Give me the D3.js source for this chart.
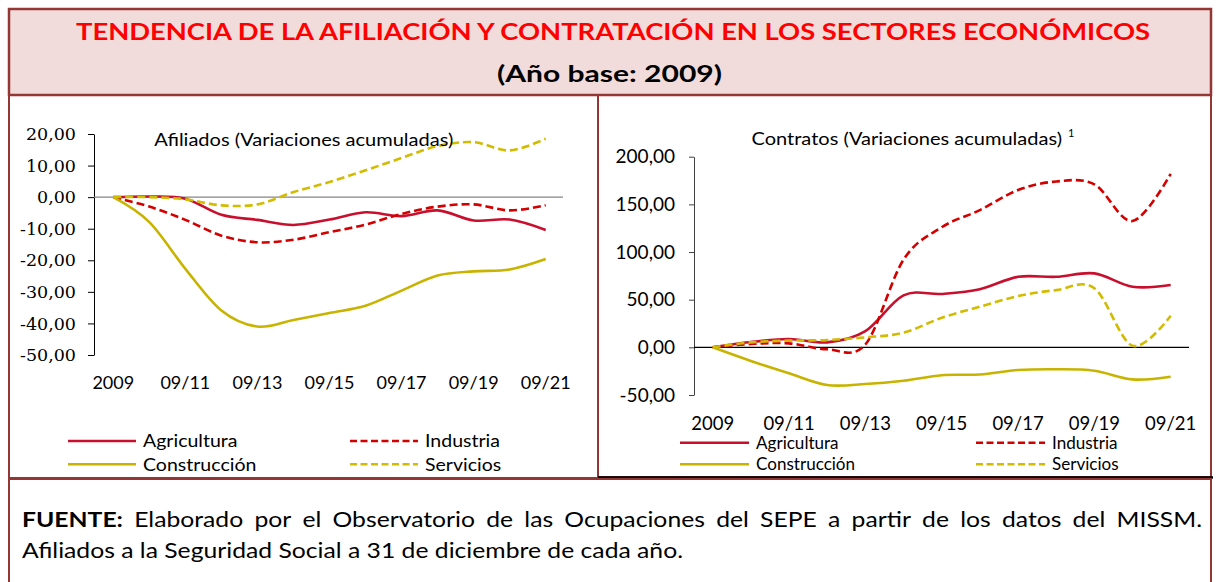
<!DOCTYPE html>
<html lang='es'>
<head>
<meta charset='utf-8'>
<title>Tendencia de la afiliación y contratación</title>
<script src='https://cdn.jsdelivr.net/npm/d3@7/dist/d3.min.js'></script>
<style>
  body { margin: 0; background: #fff; }
  svg text { font-family: Lato, 'Open Sans', sans-serif; }
</style>
</head>
<body>
<script>
// años (categorías) y etiquetas del eje x
var years = ['2009','2010','2011','2012','2013','2014','2015','2016','2017','2018','2019','2020','2021'];
var tickYears = ['2009','2011','2013','2015','2017','2019','2021'];
var tickLabels = ['2009','09/11','09/13','09/15','09/17','09/19','09/21'];
var sectors = ['Agricultura','Industria','Construcción','Servicios'];

// Afiliados (variaciones acumuladas)
var afilAgricultura  = [0, 0.2, -0.5, -5.6, -7.2, -8.8, -7.1, -4.8, -6.0, -4.2, -7.4, -7.1, -10.4];
var afilIndustria    = [0, -3.0, -7.2, -12.2, -14.3, -13.5, -11.1, -8.7, -5.3, -3.0, -2.3, -4.2, -2.6];
var afilConstruccion = [0, -7.9, -22.7, -35.9, -41.0, -38.9, -36.7, -34.4, -29.6, -24.8, -23.5, -22.9, -19.6];
var afilServicios    = [0, 0, -0.7, -2.6, -2.3, 1.6, 4.8, 8.5, 12.4, 16.2, 17.4, 14.8, 18.5];

// Contratos (variaciones acumuladas)
var contAgricultura  = [0, 5.6, 8.7, 5.2, 17, 54.5, 56, 61, 74, 74, 77.6, 63.6, 65.4];
var contIndustria    = [0, 3.5, 4.2, -2, 3, 92, 126, 144, 165, 174, 171, 132.5, 182];
var contConstruccion = [0, -14.3, -27.3, -39.5, -38.5, -35, -29.2, -28.5, -23.8, -23, -24.5, -33.6, -30.8];
var contServicios    = [0, 5.2, 7, 7.7, 10.5, 15.4, 31, 42.7, 53.8, 60, 62, 1.7, 33.2];

var afilTicks = [20, 10, 0, -10, -20, -30, -40, -50];
var contTicks = [200, 150, 100, 50, 0, -50];

var colors = {Agricultura:'#C8102E', Industria:'#D40000', 'Construcción':'#C8B400', Servicios:'#D2BC00'};
var dashed = {Agricultura:false, Industria:true, 'Construcción':false, Servicios:true};
var maroon = '#943634';

var W = 1217, H = 582;
var svg = d3.select('body').append('svg').attr('width', W).attr('height', H);

var loc = d3.formatLocale({decimal:',', thousands:'.', grouping:[3], currency:['','€'], minus:'-'});
var fmt = loc.format('.2f');

// estrecha el texto al ancho dado (la letra sustituta es más ancha que la original)
function squeeze(t, width) {
  t.attr('textLength', width).attr('lengthAdjust', 'spacingAndGlyphs');
  return t;
}

// ---- marcos ----
svg.append('rect').attr('x', 9).attr('y', 9).attr('width', 1202).attr('height', 86)
  .attr('fill', '#F2DCDB').attr('stroke', maroon).attr('stroke-width', 2.5);
svg.append('rect').attr('x', 9).attr('y', 95).attr('width', 589).attr('height', 383)
  .attr('fill', 'none').attr('stroke', maroon).attr('stroke-width', 2);
svg.append('rect').attr('x', 598).attr('y', 95).attr('width', 613).attr('height', 382)
  .attr('fill', 'none').attr('stroke', maroon).attr('stroke-width', 2);
svg.append('line').attr('x1', 598).attr('x2', 1213).attr('y1', 477.5).attr('y2', 477.5)
  .attr('stroke', '#000').attr('stroke-width', 2.5);
svg.append('rect').attr('x', 9).attr('y', 479).attr('width', 1202).attr('height', 130)
  .attr('fill', 'none').attr('stroke', maroon).attr('stroke-width', 2);

// ---- títulos ----
squeeze(svg.append('text').attr('x', 76).attr('y', 40)
  .attr('font-size', 23).attr('font-weight', 'bold').attr('fill', '#FF0000')
  .text('TENDENCIA DE LA AFILIACIÓN Y CONTRATACIÓN EN LOS SECTORES ECONÓMICOS'), 1074);
squeeze(svg.append('text').attr('x', 497).attr('y', 82)
  .attr('font-size', 23).attr('font-weight', 'bold').attr('fill', '#000')
  .text('(Año base: 2009)'), 225);

// ---- gráfico genérico ----
function drawChart(cfg) {
  var g = svg.append('g');
  var x = d3.scalePoint().domain(years).range(cfg.xRange);
  var y = d3.scaleLinear().domain(cfg.yDomain).range(cfg.yRange);

  // eje y
  var ay = g.append('g').attr('transform', 'translate(' + cfg.axisX + ',0)')
    .call(d3.axisLeft(y).tickValues(cfg.ticks).tickFormat(fmt).tickSize(cfg.tickSize).tickSizeOuter(0).tickPadding(cfg.tickPad));
  ay.select('.domain').attr('stroke', cfg.axisColor);
  ay.selectAll('.tick line').attr('stroke', cfg.axisColor);
  ay.selectAll('.tick text').attr('font-size', cfg.yFont).attr('fill', '#000')
    .style('font-family', cfg.yFamily);

  // línea del cero
  g.append('line').attr('x1', cfg.axisX).attr('x2', cfg.zeroEnd)
    .attr('y1', y(0)).attr('y2', y(0)).attr('stroke', cfg.zeroColor).attr('stroke-width', 1.3);

  // etiquetas del eje x
  g.selectAll('.xl').data(tickYears).enter().append('text')
    .attr('x', function(d) { return x(d); }).attr('y', cfg.xLabelY)
    .attr('text-anchor', 'middle').attr('font-size', cfg.xFont).attr('fill', '#000')
    .text(function(d, i) { return tickLabels[i]; });

  // series
  var line = d3.line().x(function(d, i) { return x(years[i]); }).y(function(d) { return y(d); })
    .curve(d3.curveCatmullRom.alpha(0));
  sectors.forEach(function(s) {
    g.append('path').datum(cfg.series[s]).attr('d', line)
      .attr('fill', 'none').attr('stroke', colors[s]).attr('stroke-width', 2.6)
      .attr('stroke-dasharray', dashed[s] ? '8,4' : null);
  });

  // título interior
  squeeze(g.append('text').attr('x', cfg.titleX).attr('y', cfg.titleY)
    .attr('font-size', cfg.titleFont).attr('fill', '#000').text(cfg.title), cfg.titleW);
  if (cfg.sup) {
    g.append('text').attr('x', cfg.titleX + cfg.titleW + 6).attr('y', cfg.titleY - 8)
      .attr('font-size', 11).attr('fill', '#000').text(cfg.sup);
  }

  // leyenda: ancho de "Agricultura" como referencia del estrechamiento
  var probe = g.append('text').attr('font-size', cfg.legFont).text('Agricultura');
  var k = cfg.legW / probe.node().getComputedTextLength();
  probe.remove();
  sectors.forEach(function(s, i) {
    var col = i % 2, row = Math.floor(i / 2);
    var lx = cfg.legX[col], ly = cfg.legY[row];
    g.append('line').attr('x1', lx).attr('x2', lx + cfg.legLine).attr('y1', ly).attr('y2', ly)
      .attr('stroke', colors[s]).attr('stroke-width', 2.6)
      .attr('stroke-dasharray', dashed[s] ? '7,3.5' : null);
    var lt = g.append('text').attr('x', lx + cfg.legLine + 7).attr('y', ly + cfg.legFont*0.36)
      .attr('font-size', cfg.legFont).attr('fill', '#000').text(s);
    squeeze(lt, lt.node().getComputedTextLength() * k);
  });
}

drawChart({
  series: {Agricultura: afilAgricultura, Industria: afilIndustria, 'Construcción': afilConstruccion, Servicios: afilServicios},
  xRange: [113.3, 545.7], yDomain: [-50, 20], yRange: [355, 134], ticks: afilTicks,
  axisX: 94, tickSize: 6, tickPad: 12, axisColor: '#000', yFont: 17.5, yFamily: "'DejaVu Serif', serif",
  zeroEnd: 563, zeroColor: '#868686', xLabelY: 389, xFont: 18,
  title: 'Afiliados (Variaciones acumuladas)', titleX: 154.3, titleY: 145.5, titleW: 299, titleFont: 17.5,
  legX: [68, 350], legY: [441, 464.3], legLine: 68, legW: 94.5, legFont: 17.5
});

drawChart({
  series: {Agricultura: contAgricultura, Industria: contIndustria, 'Construcción': contConstruccion, Servicios: contServicios},
  xRange: [712.7, 1170.7], yDomain: [-50, 200], yRange: [395, 156.7], ticks: contTicks,
  axisX: 694, tickSize: 5, tickPad: 14, axisColor: '#404040', yFont: 19, yFamily: 'Lato, sans-serif',
  zeroEnd: 1189, zeroColor: '#000', xLabelY: 430, xFont: 18.5,
  title: 'Contratos (Variaciones acumuladas)', titleX: 751.5, titleY: 145, titleW: 310.5, titleFont: 18, sup: '1',
  legX: [680, 976], legY: [442.7, 464.3], legLine: 69, legW: 82.6, legFont: 16.5
});

// ---- fuente ----
var ffs = 20.5;
var line2 = svg.append('text').attr('x', 22).attr('y', 558).attr('font-size', ffs).attr('fill', '#000')
  .text('Afiliados a la Seguridad Social a 31 de diciembre de cada año.');
var kf = 661 / line2.node().getComputedTextLength();
squeeze(line2, 661);

// primera línea justificada palabra a palabra
var words = 'FUENTE: Elaborado por el Observatorio de las Ocupaciones del SEPE a partir de los datos del MISSM.'.split(' ');
var wt = words.map(function(w, i) {
  return svg.append('text').attr('y', 527).attr('font-size', ffs).attr('fill', '#000')
    .attr('font-weight', i === 0 ? 'bold' : null).text(w);
});
var widths = wt.map(function(t) { return t.node().getComputedTextLength() * kf; });
var gap = (1202 - 22 - d3.sum(widths)) / (words.length - 1);
var cx = 22;
wt.forEach(function(t, i) { squeeze(t, widths[i]).attr('x', cx); cx += widths[i] + gap; });
</script>
</body>
</html>
